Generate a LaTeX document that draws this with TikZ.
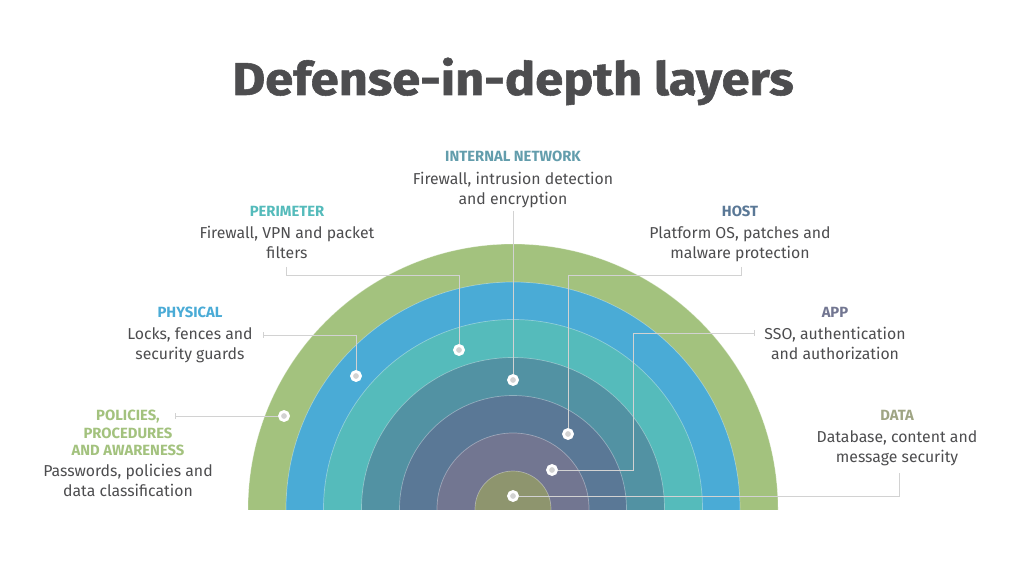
\documentclass[tikz,border=0pt]{standalone}
\usepackage{fontspec}
\setmainfont{Fira Sans}
\newfontfamily\titlefont{Fira Sans Bold}[FakeBold=1.2]
\usetikzlibrary{positioning}
\definecolor{txtgray}{HTML}{4D4D4F}
\definecolor{polgreen}{HTML}{A3C27E}
\definecolor{phyblue}{HTML}{4AABD6}
\definecolor{perteal}{HTML}{55BBBB}
\definecolor{intteal}{HTML}{5292A3}
\definecolor{hostslate}{HTML}{5A7896}
\definecolor{appgray}{HTML}{727691}
\definecolor{dataolive}{HTML}{8E956E}
\definecolor{leadgray}{HTML}{D2D2D2}

\begin{document}
\begin{tikzpicture}[x=1pt,y=1pt,
    layerhead/.style={font=\fontsize{14.8}{17.5}\selectfont\bfseries, align=center, inner sep=0pt},
    layerbody/.style={font=\fontsize{15.8}{20}\selectfont, text=txtgray, align=center, inner sep=0pt},
    leadline/.style={draw=leadgray, line width=0.8pt},
    dotmark/.style={circle, fill=leadgray, draw=white, line width=2.8pt, minimum size=9pt, inner sep=0pt}]
    \useasboundingbox (0,0) rectangle (1024,568);
    % title
    \node[anchor=base, text=txtgray, xscale=1.1, font=\fontsize{46}{50}\titlefont] (title) at (513,473) {Defense-in-depth layers};
    % rings
    \begin{scope}
        \clip (200,59) rectangle (830,330);
        \foreach \r/\c in {265/polgreen, 227/phyblue, 189.5/perteal, 151.5/intteal, 113.5/hostslate, 76/appgray, 38/dataolive}
            \filldraw[fill=\c, draw=white, draw opacity=0.35, line width=0.7pt] (513,59) circle[radius=\r pt];
    \end{scope}
    % labels
    \node[layerhead, text=intteal!90!white] (inthead) at (513,412) {INTERNAL NETWORK};
    \node[layerbody, below=10pt of inthead] (intbody) {Firewall, intrusion detection\\and encryption};
    \node[layerhead, text=perteal] (perhead) at (287,357) {PERIMETER};
    \node[layerbody, below=10pt of perhead] (perbody) {Firewall, VPN and packet\\filters};
    \node[layerhead, text=hostslate] (hosthead) at (740,357) {HOST};
    \node[layerbody, below=10pt of hosthead] (hostbody) {Platform OS, patches and\\malware protection};
    \node[layerhead, text=phyblue] (phyhead) at (190,256) {PHYSICAL};
    \node[layerbody, below=10pt of phyhead] (phybody) {Locks, fences and\\security guards};
    \node[layerhead, text=appgray] (apphead) at (835,256) {APP};
    \node[layerbody, below=10pt of apphead] (appbody) {SSO, authentication\\and authorization};
    \node[layerhead, text=polgreen] (polhead) at (128,135) {POLICIES,\\PROCEDURES\\AND AWARENESS};
    \node[layerbody, below=8pt of polhead] (polbody) {Passwords, policies and\\data classification};
    \node[layerhead, text=dataolive!85!white] (datahead) at (897,153) {DATA};
    \node[layerbody, below=10pt of datahead] (databody) {Database, content and\\message security};
    % leader ends
    \coordinate (cpol) at (175,152);
    \coordinate (cphy) at (263,233);
    \coordinate (cper) at (286,301);
    \coordinate (cint) at (513,357);
    \coordinate (chost) at (741,301);
    \coordinate (capp) at (754,235);
    \coordinate (cdata) at (899,95);
    % dots
    \node[dotmark] (dpol) at (284,152) {};
    \node[dotmark] (dphy) at (356,192) {};
    \node[dotmark] (dper) at (459,218) {};
    \node[dotmark] (dint) at (513,188) {};
    \node[dotmark] (dhost) at (568,134) {};
    \node[dotmark] (dapp) at (552,98) {};
    \node[dotmark] (ddata) at (513,72) {};
    % leaders
    \draw[leadline] (cpol) ++(0,3) -- ++(0,-6);
    \draw[leadline] (cpol) -- (dpol);
    \draw[leadline] (cphy) ++(0,3) -- ++(0,-6);
    \draw[leadline] (cphy) -| (dphy);
    \draw[leadline] (cper) -- ++(0,-8) -| (dper);
    \draw[leadline] (cint) -- (dint);
    \draw[leadline] (chost) -- ++(0,-8) -| (dhost);
    \draw[leadline] (capp) ++(0,3) -- ++(0,-6);
    \draw[leadline] (capp) -| (633,98) -- (dapp);
    \draw[leadline] (cdata) |- (ddata);
\end{tikzpicture}
\end{document}
